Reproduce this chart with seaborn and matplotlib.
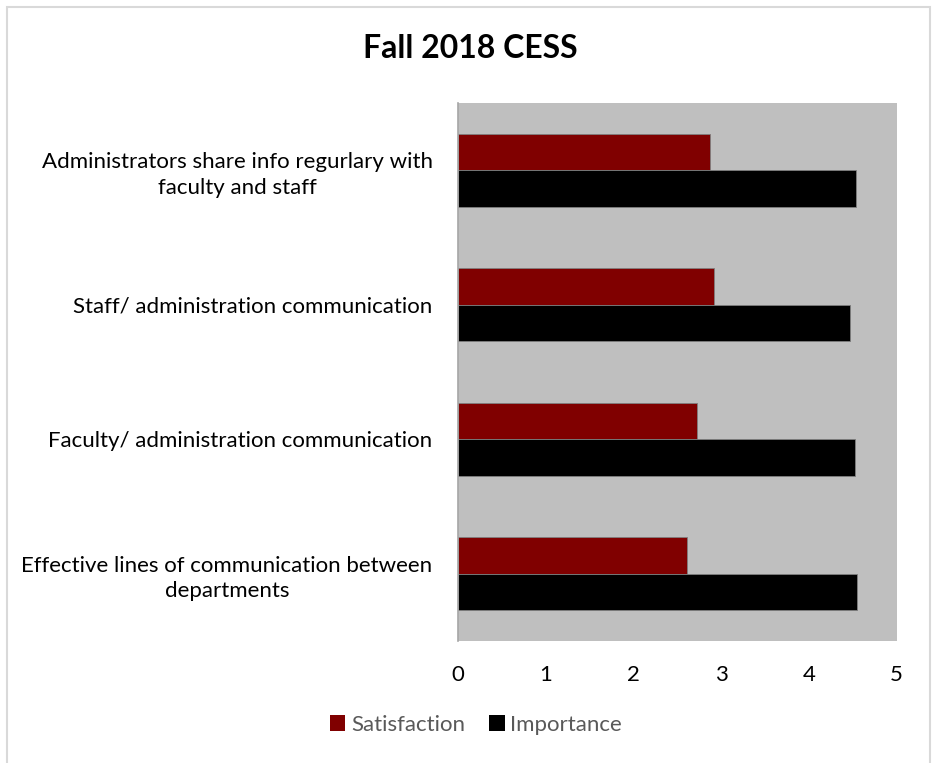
import matplotlib
matplotlib.use("Agg")
import matplotlib.pyplot as plt
import seaborn as sns
import pandas as pd
from matplotlib.patches import Rectangle, Patch

# Survey items (top to bottom) and mean ratings
categories = [
    "Administrators share info regurlary with\nfaculty and staff",
    "Staff/ administration communication",
    "Faculty/ administration communication",
    "Effective lines of communication between\ndepartments",
]
satisfaction = [2.88, 2.92, 2.73, 2.61]
importance = [4.54, 4.47, 4.53, 4.55]
series = ["Satisfaction", "Importance"]
colors = {"Satisfaction": "#800000", "Importance": "#000000"}
xticks = [0, 1, 2, 3, 4, 5]

df = pd.DataFrame({
    "item": categories * 2,
    "score": satisfaction + importance,
    "series": [series[0]] * len(categories) + [series[1]] * len(categories),
})

sns.set_theme(style="white")
plt.rcParams["font.family"] = ["Lato", "DejaVu Sans"]

W, H = 936, 763
fig = plt.figure(figsize=(W / 100, H / 100), dpi=100)
fig.patch.set_facecolor("white")

# Outer chart border
fig.add_artist(Rectangle((7 / W, -0.01), (930 - 7) / W, 1 - 7 / H + 0.01,
                         transform=fig.transFigure, fill=False,
                         edgecolor="#D9D9D9", linewidth=1.5))

left, right, top, bottom = 457.5, 896.7, 103, 641
ax = fig.add_axes([left / W, 1 - bottom / H, (right - left) / W, (bottom - top) / H])
ax.set_facecolor("#BFBFBF")

sns.barplot(data=df, y="item", x="score", hue="series", order=categories,
            hue_order=series, palette=colors, saturation=1, orient="h",
            width=0.54, edgecolor="#7f7f7f", linewidth=0.6, ax=ax, legend=False)

ax.set_xlim(0, 5)
ax.set_ylim(3.5, -0.5)
ax.set_xticks(xticks)
ax.set_xticklabels([str(t) for t in xticks])
ax.set_xlabel("")
ax.set_ylabel("")
ax.tick_params(axis="both", length=0, labelsize=16, colors="black")
ax.tick_params(axis="x", pad=17)
ax.tick_params(axis="y", pad=18)
for lbl in ax.get_yticklabels():
    lbl.set_multialignment("center")
    lbl.set_linespacing(1.35)

for side in ["top", "right", "bottom"]:
    ax.spines[side].set_visible(False)
ax.spines["left"].set_color("#A6A6A6")
ax.spines["left"].set_linewidth(1.2)

fig.text(470 / W, 1 - 48 / H, "Fall 2018 CESS", ha="center", va="center",
         fontsize=23, fontweight="bold", color="black")

handles = [Patch(facecolor=colors[s], edgecolor="none", label=s) for s in series]
leg = fig.legend(handles=handles, loc="center", bbox_to_anchor=(476 / W, 1 - 725 / H),
                 ncol=2, frameon=False, fontsize=16, handlelength=0.7,
                 handleheight=0.7, handletextpad=0.25, columnspacing=1.1)
for t in leg.get_texts():
    t.set_color("#595959")

fig.savefig("out.png", dpi=100)
